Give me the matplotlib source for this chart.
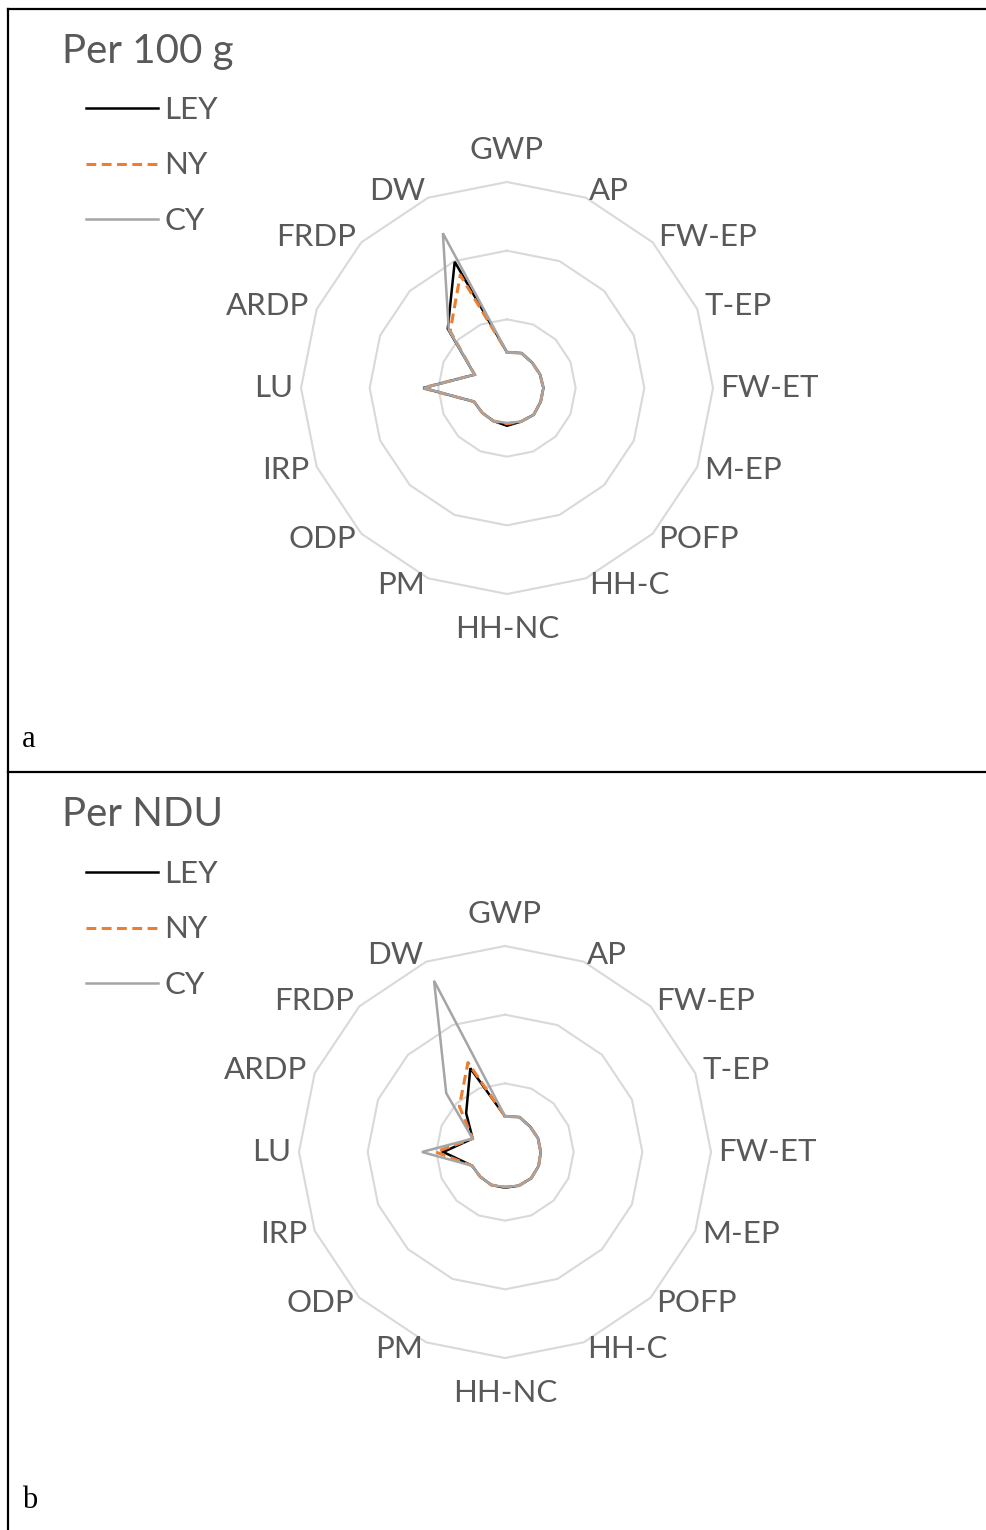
import numpy as np
import matplotlib
matplotlib.use("Agg")
import matplotlib.pyplot as plt
from matplotlib.lines import Line2D

# impact categories, clockwise from the top
categories = ["GWP", "AP", "FW-EP", "T-EP", "FW-ET", "M-EP", "POFP", "HH-C",
              "HH-NC", "PM", "ODP", "IRP", "LU", "ARDP", "FRDP", "DW"]
series_names = ["LEY", "NY", "CY"]
ring_levels = [1, 2, 3]

# a: per 100 g
ley_100g = [0.52, 0.55, 0.52, 0.52, 0.53, 0.53, 0.55, 0.53, 0.55, 0.52, 0.51, 0.52, 1.22, 0.51, 1.22, 1.99]
ny_100g  = [0.52, 0.55, 0.52, 0.52, 0.53, 0.53, 0.55, 0.53, 0.52, 0.52, 0.51, 0.52, 1.23, 0.51, 1.17, 1.78]
cy_100g  = [0.52, 0.55, 0.52, 0.52, 0.53, 0.53, 0.55, 0.53, 0.51, 0.52, 0.51, 0.52, 1.21, 0.51, 1.20, 2.44]

# b: per NDU
ley_ndu = [0.52, 0.55, 0.52, 0.52, 0.52, 0.53, 0.54, 0.53, 0.52, 0.52, 0.51, 0.52, 0.90, 0.51, 0.80, 1.32]
ny_ndu  = [0.52, 0.55, 0.52, 0.52, 0.52, 0.53, 0.54, 0.53, 0.51, 0.52, 0.51, 0.52, 1.01, 0.51, 0.94, 1.41]
cy_ndu  = [0.52, 0.55, 0.52, 0.52, 0.52, 0.53, 0.54, 0.53, 0.51, 0.52, 0.51, 0.52, 1.21, 0.51, 1.21, 2.70]

W, H = 986, 1530
fig = plt.figure(figsize=(W / 100, H / 100), dpi=100)

FONT = ["Lato", "DejaVu Sans"]
TXT = "#595959"
styles = [dict(color="black", lw=1.8, ls="-"),
          dict(color="#ED7D31", lw=2.2, ls=(0, (3.2, 1.8))),
          dict(color="#A5A5A5", lw=1.8, ls="-")]

angles = np.arange(len(categories)) * 2 * np.pi / len(categories)
closed = np.append(angles, angles[0])


def radar(cx, cy, title, data, letter, letter_y, top):
    rad = 206
    ax = fig.add_axes([(cx - rad) / W, (H - cy - rad) / H, 2 * rad / W, 2 * rad / H],
                      projection="polar")
    ax.set_theta_zero_location("N")
    ax.set_theta_direction(-1)
    ax.axis("off")
    for r in ring_levels:
        ax.plot(closed, [r] * len(closed), color="#D9D9D9", lw=1.5, clip_on=False, zorder=1)
    handles = []
    for name, vals, st in zip(series_names, data, styles):
        v = np.append(vals, vals[0])
        ln, = ax.plot(closed, v, label=name, solid_joinstyle="miter", zorder=3, **st)
        handles.append(ln)
    ax.set_ylim(0, 3)

    for a, lab in zip(angles, categories):
        s = np.sin(a)
        if abs(s) < 0.01:
            ha = "center"
            rr = 3.47 if np.cos(a) > 0 else 3.51
        else:
            ha, rr = ("left" if s > 0 else "right"), 3.11
        ax.text(a, rr, lab, ha=ha, va="center", fontsize=22.5, color=TXT, family=FONT)

    fig.text(62 / W, 1 - (top + 43) / H, title, fontsize=29, color=TXT, family=FONT,
             va="center", ha="left")
    fig.legend(handles=handles, loc="upper left",
               bbox_to_anchor=(86 / W, 1 - (top + 88) / H), frameon=False,
               prop={"family": FONT, "size": 22.5},
               handlelength=2.3, handletextpad=0.2, labelspacing=0.88,
               borderpad=0, borderaxespad=0, labelcolor=TXT)
    fig.text(22 / W, 1 - letter_y / H, letter, fontsize=22, family="Liberation Serif",
             color="black", va="center", ha="left")


radar(507, 388, "Per 100 g", [ley_100g, ny_100g, cy_100g], "a", 739, 8)
radar(505, 1152, "Per NDU", [ley_ndu, ny_ndu, cy_ndu], "b", 1501, 772)

# table frame around the two panels
for y in (9, 772):
    fig.add_artist(Line2D([8 / W, 1], [1 - y / H, 1 - y / H], color="black", lw=1.6,
                          transform=fig.transFigure))
fig.add_artist(Line2D([8 / W, 8 / W], [1 - 9 / H, 0], color="black", lw=1.6,
                      transform=fig.transFigure))

fig.savefig("out.png", dpi=100)
